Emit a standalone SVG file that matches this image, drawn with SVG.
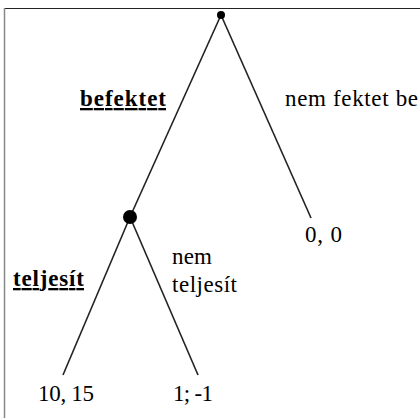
<svg xmlns="http://www.w3.org/2000/svg" width="420" height="418" viewBox="0 0 420 418">
<style>
.t{font-size:23px;fill:#000}
.b{font-weight:bold;text-decoration:underline}
.e{stroke:#222;stroke-width:1.6;fill:none}
</style>
<rect width="420" height="418" fill="#fff"/>
<line x1="4" y1="8.5" x2="420" y2="8.5" stroke="#222" stroke-width="1.2"/>
<line x1="4.5" y1="8" x2="4.5" y2="418" stroke="#888" stroke-width="1.5"/>
<g id="edges">
<line class="e" x1="221" y1="15" x2="130" y2="217"/>
<line class="e" x1="221" y1="15" x2="311" y2="218"/>
<line class="e" x1="130" y1="217" x2="63" y2="375"/>
<line class="e" x1="130" y1="217" x2="198" y2="375"/>
</g>
<g id="root"><circle cx="221" cy="15" r="4" fill="#000"/></g>
<g id="node2"><circle cx="130" cy="217" r="7" fill="#000"/></g>
<g id="lbl-befektet"><text class="t b" style="font-family:'Liberation Serif',serif !important" x="80" y="106" textLength="86">befektet</text></g>
<g id="lbl-nemfektet"><text class="t" style="font-family:'Liberation Serif',serif !important" x="285" y="106" textLength="133">nem fektet be</text></g>
<g id="leaf00"><text class="t" style="font-family:'Liberation Serif',serif !important" x="305" y="242" textLength="37">0, 0</text></g>
<g id="lbl-teljesit"><text class="t b" style="font-family:'Liberation Serif',serif !important" x="13" y="286" textLength="71">teljesít</text></g>
<g id="lbl-nemteljesit"><text class="t" style="font-family:'Liberation Serif',serif !important" x="172" y="264" textLength="40">nem</text><text class="t" style="font-family:'Liberation Serif',serif !important" x="172" y="292" textLength="65">teljesít</text></g>
<g id="leaf1015"><text class="t" style="font-family:'Liberation Serif',serif !important" x="38" y="401" textLength="56">10, 15</text></g>
<g id="leaf11"><text class="t" style="font-family:'Liberation Serif',serif !important" x="173" y="401" textLength="40">1; -1</text></g>
</svg>
